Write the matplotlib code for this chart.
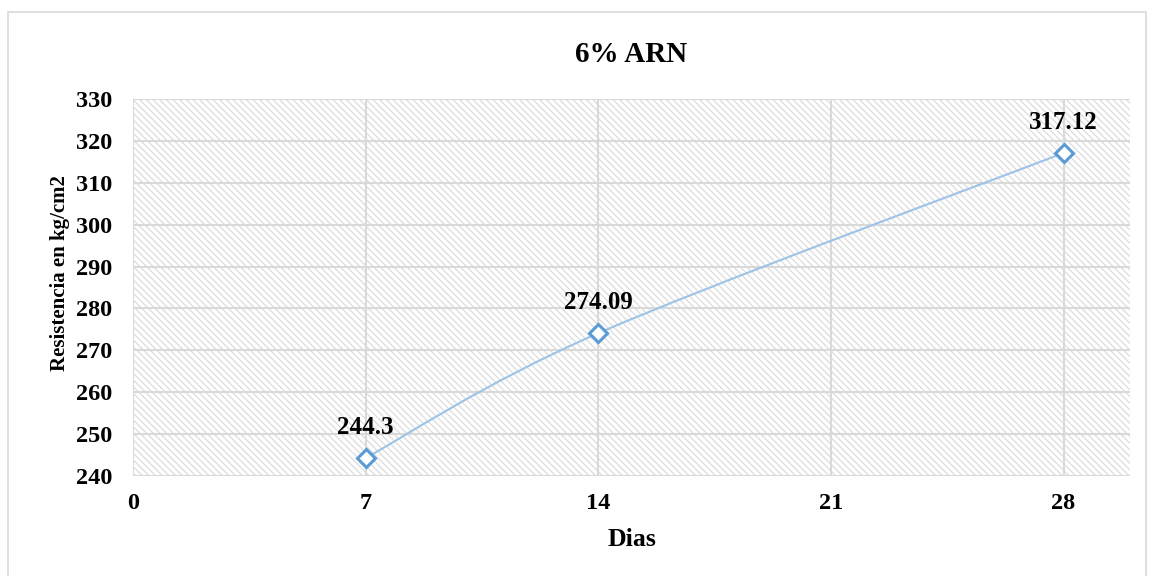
import numpy as np
import matplotlib.pyplot as plt
from matplotlib.path import Path
from matplotlib.patches import PathPatch, Rectangle

plt.rcParams['font.family'] = ['Liberation Serif', 'DejaVu Serif']
plt.rcParams['font.weight'] = 'bold'
plt.rcParams['hatch.color'] = '#dcdcdc'
plt.rcParams['hatch.linewidth'] = 0.9

dias = [7, 14, 28]
resistencia = [244.3, 274.09, 317.12]
xticks = [0, 7, 14, 21, 28]
yticks = list(range(240, 331, 10))

fig = plt.figure(figsize=(11.53, 5.76), dpi=100)
ax = fig.add_axes([133 / 1153, 1 - 476 / 576, (1130 - 133) / 1153, (476 - 99) / 576])

# chart frame
fig.patches.append(Rectangle((8 / 1153, -0.05), (1146 - 8) / 1153, 1 - 12 / 576 + 0.05,
                             transform=fig.transFigure, fill=False,
                             edgecolor='#d9d9d9', linewidth=1.2))

ax.add_patch(Rectangle((0, 0), 1, 1, transform=ax.transAxes, facecolor='white',
                       hatch='\\\\\\\\\\', edgecolor='#dcdcdc', linewidth=0, zorder=0))

ax.set_xlim(0, 30)
ax.set_ylim(240, 330)
ax.set_xticks(xticks)
ax.set_yticks(yticks)
ax.grid(True, color='#d9d9d9', linewidth=1.5)
ax.set_axisbelow(True)
for s in ax.spines.values():
    s.set_visible(False)
ax.tick_params(length=0, labelsize=17.5, pad=12)
ax.tick_params(axis='y', pad=15)

# smoothed connecting line (cubic bezier through the points)
x = np.array(dias, dtype=float)
y = np.array(resistencia, dtype=float)
pts = np.column_stack([x, y])
verts = [pts[0]]
codes = [Path.MOVETO]
n = len(pts)
for i in range(n - 1):
    p0 = pts[i - 1] if i > 0 else pts[i]
    p1 = pts[i]
    p2 = pts[i + 1]
    p3 = pts[i + 2] if i + 2 < n else pts[i + 1]
    c1 = p1 + (p2 - p0) / 6
    c2 = p2 - (p3 - p1) / 6
    verts += [c1, c2, p2]
    codes += [Path.CURVE4] * 3
ax.add_patch(PathPatch(Path(verts, codes), facecolor='none', edgecolor='#9dc3e6',
                       linewidth=1.5, zorder=3))

ax.plot(dias, resistencia, linestyle='none', marker='D', markersize=9,
        markerfacecolor='white', markeredgecolor='#5b9bd5', markeredgewidth=2.2, zorder=4)

for xi, yi in zip(dias, resistencia):
    ax.annotate(f'{yi:g}', (xi, yi), xytext=(0, 14), textcoords='offset points',
                ha='center', va='bottom', fontsize=18, fontweight='bold')

ax.set_title('6% ARN', fontsize=21, fontweight='bold', pad=27)
ax.set_xlabel('Dias', fontsize=18.5, fontweight='bold', labelpad=10)
ax.set_ylabel('Resistencia en kg/cm2', fontsize=15, fontweight='bold')
ax.yaxis.set_label_coords(-0.063, 0.538)

fig.savefig('out.png', dpi=100)
